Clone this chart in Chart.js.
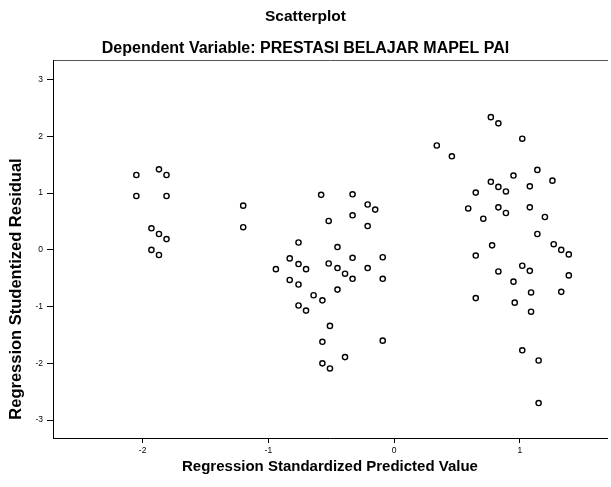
<!DOCTYPE html>
<html>
<head>
<meta charset="utf-8">
<script src="https://cdn.jsdelivr.net/npm/chart.js@4/dist/chart.umd.min.js"></script>
<style>
  html, body { margin: 0; padding: 0; background: #fff; }
  #wrap { width: 611px; height: 487px; }
</style>
</head>
<body>
<div id="wrap"><canvas id="c" width="611" height="487"></canvas></div>
<script>
const chartTitle = 'Scatterplot';
const chartSubtitle = 'Dependent Variable: PRESTASI BELAJAR MAPEL PAI';
const xTitle = 'Regression Standardized Predicted Value';
const yTitle = 'Regression Studentized Residual';
const xTickValues = [-2, -1, 0, 1];
const yTickValues = [-3, -2, -1, 0, 1, 2, 3];

// Regression standardized predicted values
const predicted = [
  -2.05, -1.87, -1.81, -2.05, -1.81, -1.93, -1.87, -1.81, -1.93, -1.87,
  -1.20, -1.20, -0.58, -0.33, -0.21, -0.15, -0.52, -0.33, -0.21, -0.76,
  -0.45, -0.83, -0.33, -0.09, -0.94, -0.76, -0.70, -0.52, -0.45, -0.39,
  -0.33, -0.21, -0.09, -0.83, -0.76, -0.45, -0.64, -0.57, -0.76, -0.70,
  -0.51, -0.57, -0.09, -0.39, -0.57, -0.51,
  0.77, 0.83, 1.02, 0.34, 0.46, 1.14, 0.95, 1.26, 0.77, 0.83,
  0.89, 1.08, 0.65, 0.59, 0.83, 0.89, 1.08, 1.20, 0.71, 1.14,
  0.78, 1.27, 1.33, 1.39, 0.65, 1.02, 1.08, 0.83, 1.39, 0.95,
  1.09, 1.33, 0.65, 0.96, 1.09, 1.02, 1.15, 1.15
];
// Regression studentized residuals
const residual = [
  1.32, 1.42, 1.32, 0.95, 0.95, 0.38, 0.28, 0.19, 0.00, -0.09,
  0.78, 0.40, 0.97, 0.98, 0.80, 0.71, 0.51, 0.61, 0.42, 0.13,
  0.05, -0.15, -0.14, -0.13, -0.34, -0.25, -0.34, -0.24, -0.32, -0.42,
  -0.51, -0.32, -0.51, -0.53, -0.61, -0.70, -0.80, -0.89, -0.98, -1.07,
  -1.34, -1.62, -1.60, -1.89, -2.00, -2.09,
  2.34, 2.23, 1.96, 1.84, 1.65, 1.41, 1.31, 1.22, 1.20, 1.11,
  1.03, 1.12, 1.01, 0.73, 0.75, 0.65, 0.75, 0.58, 0.55, 0.28,
  0.08, 0.10, 0.00, -0.08, -0.10, -0.28, -0.37, -0.38, -0.45, -0.56,
  -0.75, -0.74, -0.85, -0.93, -1.09, -1.77, -1.95, -2.70
];

const points = predicted.map((x, i) => ({ x: x, y: residual[i] }));
const FONT = "'Liberation Sans', Arial, Helvetica, sans-serif";

new Chart(document.getElementById('c'), {
  type: 'scatter',
  data: {
    datasets: [{
      data: points,
      pointStyle: 'circle',
      pointRadius: 2.6,
      pointHoverRadius: 2.6,
      pointBorderWidth: 1.4,
      borderColor: '#000',
      backgroundColor: 'rgba(255,255,255,0)'
    }]
  },
  options: {
    responsive: false,
    animation: false,
    layout: { padding: 0 },
    plugins: {
      legend: { display: false },
      tooltip: { enabled: false },
      title: {
        display: true, text: chartTitle, color: '#000',
        font: { family: FONT, size: 15.5, weight: 'bold', lineHeight: 1.2 },
        padding: { top: 7, bottom: 0 }
      },
      subtitle: {
        display: true, text: chartSubtitle, color: '#000',
        font: { family: FONT, size: 16, weight: 'bold', lineHeight: 1.2 },
        padding: { top: 13, bottom: 3 }
      }
    },
    scales: {
      x: {
        type: 'linear', position: 'bottom',
        min: -2.713, max: 1.694,
        afterBuildTicks: (s) => { s.ticks = xTickValues.map(v => ({ value: v })); },
        afterFit: (s) => { s.height = 49; },
        ticks: {
          color: '#000', padding: 3, maxRotation: 0,
          font: { family: FONT, size: 8.5 },
          callback: (v) => String(v)
        },
        grid: { display: true, drawOnChartArea: false, drawTicks: true, tickLength: 5, color: '#000', lineWidth: 1 },
        border: { display: true, color: '#000', width: 1 },
        title: {
          display: true, text: xTitle, color: '#000',
          font: { family: FONT, size: 15, weight: 'bold', lineHeight: 1.2 },
          padding: { top: 0, bottom: 11 }
        }
      },
      x2: {
        type: 'linear', position: 'top',
        min: -2.713, max: 1.694,
        afterFit: (s) => { s.height = 0; },
        ticks: { display: false },
        grid: { display: false, drawTicks: false },
        border: { display: true, color: '#555', width: 1 }
      },
      y: {
        type: 'linear', position: 'left',
        min: -3.316, max: 3.333,
        afterBuildTicks: (s) => { s.ticks = yTickValues.map(v => ({ value: v })); },
        afterFit: (s) => { s.width = 53; },
        ticks: {
          color: '#000', padding: 4,
          font: { family: FONT, size: 8.5 },
          callback: (v) => String(v)
        },
        grid: { display: true, drawOnChartArea: false, drawTicks: true, tickLength: 6, color: '#000', lineWidth: 1 },
        border: { display: true, color: '#000', width: 1 },
        title: {
          display: true, text: '    ' + yTitle, color: '#000', align: 'start',
          font: { family: FONT, size: 16.5, weight: 'bold', lineHeight: 1.2 },
          padding: { top: 7, bottom: 0 }
        }
      }
    }
  }
});
</script>
</body>
</html>
